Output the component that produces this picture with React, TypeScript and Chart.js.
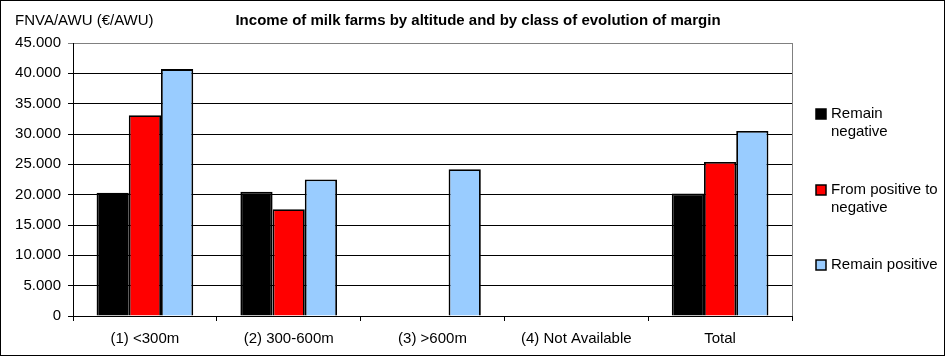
import React, { useEffect, useRef } from "react";
import { Chart, registerables } from "chart.js";

Chart.register(...registerables);

const categories = ["(1) <300m", "(2) 300-600m", "(3) >600m", "(4) Not Available", "Total"];
const remainNegative = [20300, 20500, null, null, 20200];
const positiveToNegative = [33100, 17600, null, null, 25400];
const remainPositive = [40700, 22500, 24200, null, 30500];
const seriesNames = [["Remain", "negative"], ["From positive to", "negative"], ["Remain positive"]];
const seriesColors = ["#000000", "#FF0000", "#99CCFF"];
const yTitle = "FNVA/AWU (€/AWU)";
const chartTitle = "Income of milk farms by altitude and by class of evolution of margin";
const FONT = "'Liberation Sans', Arial, sans-serif";

const fmt = (v: number) => (v === 0 ? "0" : v.toLocaleString("en-US").replace(/,/g, "."));

const decorPlugin = {
  id: "decor",
  afterDraw(chart: any) {
    const ctx = chart.ctx;
    const a = chart.chartArea;
    ctx.save();
    // plot right border
    ctx.strokeStyle = "#808080";
    ctx.lineWidth = 1;
    ctx.beginPath();
    ctx.moveTo(Math.round(a.right) + 0.5, a.top);
    ctx.lineTo(Math.round(a.right) + 0.5, a.bottom);
    ctx.stroke();
    // outer frame
    ctx.strokeStyle = "#000";
    ctx.strokeRect(0.5, 0.5, chart.width - 1, chart.height - 1);
    // texts
    ctx.fillStyle = "#000";
    ctx.textBaseline = "middle";
    ctx.font = `15px ${FONT}`;
    ctx.textAlign = "left";
    ctx.fillText(yTitle, 15, 21);
    ctx.font = `bold 15px ${FONT}`;
    ctx.textAlign = "center";
    ctx.fillText(chartTitle, 478, 21);
    // legend
    const itemY = [114, 190, 265];
    ctx.font = `15px ${FONT}`;
    ctx.textAlign = "left";
    seriesNames.forEach((lines, i) => {
      const y = itemY[i];
      ctx.fillStyle = seriesColors[i];
      ctx.fillRect(816, y - 5, 10, 10);
      ctx.strokeStyle = "#000";
      ctx.lineWidth = 1.5;
      ctx.strokeRect(816, y - 5, 10, 10);
      ctx.fillStyle = "#000";
      lines.forEach((t, j) => ctx.fillText(t, 831, y + j * 18));
    });
    ctx.restore();
  },
};

export default function App() {
  const ref = useRef<HTMLCanvasElement>(null);
  useEffect(() => {
    const chart = new Chart(ref.current!, {
      type: "bar",
      data: {
        labels: categories,
        datasets: [remainNegative, positiveToNegative, remainPositive].map((d, i) => ({
          label: seriesNames[i].join(" "),
          data: d as any,
          backgroundColor: seriesColors[i],
          borderColor: "#000",
          borderWidth: 1.8,
          categoryPercentage: 0.672,
          barPercentage: 1,
        })),
      },
      options: {
        responsive: false,
        animation: false,
        devicePixelRatio: 1,
        layout: { padding: { left: 0, top: 43, right: 153, bottom: 0 } },
        plugins: { legend: { display: false }, title: { display: false }, tooltip: { enabled: false } },
        scales: {
          x: {
            grid: { offset: true, drawOnChartArea: false, color: "#000", tickLength: 5 },
            border: { color: "#000" },
            ticks: { color: "#000", font: { family: FONT, size: 15 }, padding: 9, maxRotation: 0, autoSkip: false },
            afterFit: (s: any) => { s.height = 40; },
          },
          y: {
            min: 0,
            max: 45000,
            grid: {
              color: (c: any) => (c.tick && c.tick.value === 45000 ? "#808080" : "#000"),
              tickLength: 5,
            },
            border: { color: "#000" },
            ticks: {
              stepSize: 5000,
              color: "#000",
              padding: 7,
              font: { family: FONT, size: 15 },
              callback: (v: any) => fmt(Number(v)),
            },
            afterFit: (s: any) => { s.width = 73; },
          },
        },
      },
      plugins: [decorPlugin],
    });
    return () => chart.destroy();
  }, []);
  return (
    <div style={{ position: "absolute", left: 0, top: 0, width: 945, height: 356, background: "#fff" }}>
      <canvas ref={ref} width={945} height={356} style={{ display: "block" }} />
    </div>
  );
}
